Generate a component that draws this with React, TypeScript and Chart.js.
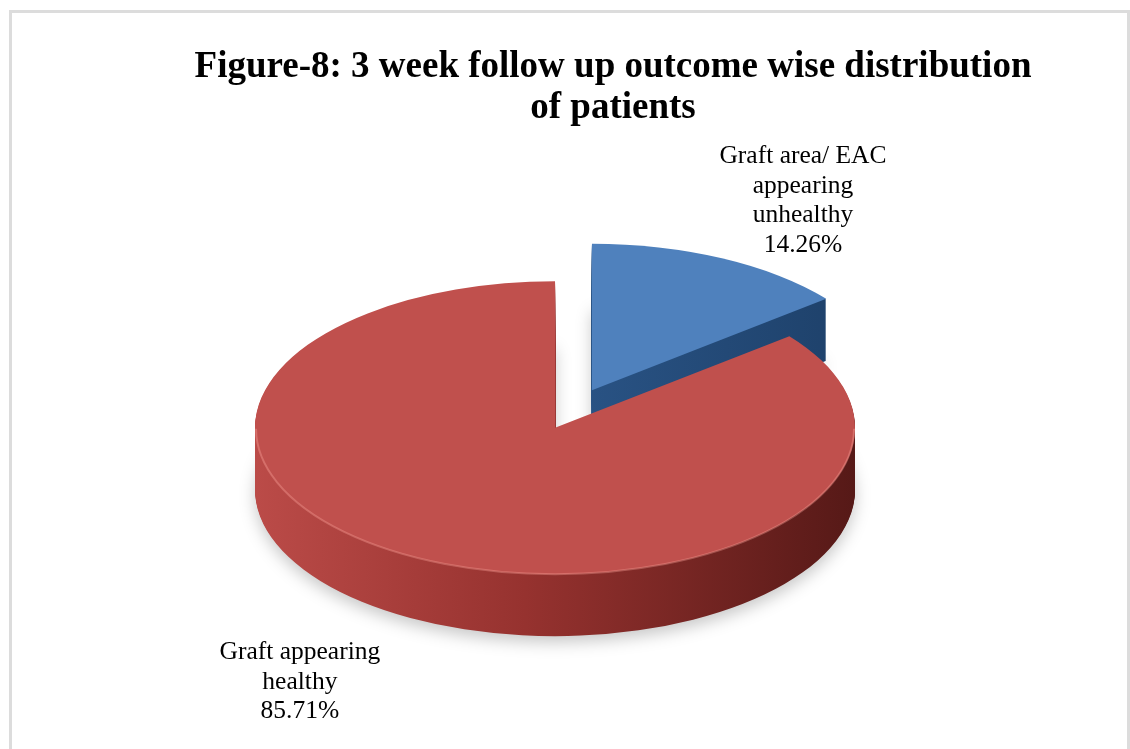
import React, { useEffect, useRef } from 'react';
import { Chart, registerables } from 'chart.js';

Chart.register(...registerables);

// Outcome categories at the 3 week follow up
const categories = ['Graft area/ EAC appearing unhealthy', 'Graft appearing healthy'];
const labelLines = [
  ['Graft area/ EAC', 'appearing', 'unhealthy'],
  ['Graft appearing', 'healthy'],
];
const percentages = [14.26, 85.71];

// Face and side colours per slice
const faceColors = ['#4f81bd', '#c0504d'];
const sideColors = [
  ['#3b6ba4', '#2a5486', '#1c3e66'],
  ['#bb4b48', '#96322f', '#561917'],
];

const titleLines = ['Figure-8: 3 week follow up outcome wise distribution', 'of patients'];

// 3D look
const TILT = 0.488; // vertical squash of the pie disc
const DEPTH = 62; // thickness of the disc in px
const EXPLODE = 42.6; // distance each slice is pulled out from the centre

// Data label anchors, in units of the pie radius from its centre
const labelAnchors = [
  [0.765, -0.82],
  [-0.912, 0.833],
];
const LABEL_FONT = 25.5;
const LABEL_LINE = 29.7;

const TITLE_X = 613;
const TITLE_Y = 77;
const TITLE_LINE = 41;

const pie3d = {
  id: 'pie3d',
  beforeDatasetsDraw(chart: any) {
    const { ctx } = chart;
    const arcs = chart.getDatasetMeta(0).data;
    arcs.forEach((el: any, i: number) => {
      const { x, y, startAngle, endAngle, outerRadius } = el.getProps(
        ['x', 'y', 'startAngle', 'endAngle', 'outerRadius'],
        true
      );
      const mid = (startAngle + endAngle) / 2;
      const ox = x + Math.cos(mid) * EXPLODE;
      const oy = y + Math.sin(mid) * EXPLODE * TILT;
      const ry = outerRadius * TILT;
      const slice = (dy: number) => {
        ctx.beginPath();
        ctx.moveTo(ox, oy + dy);
        ctx.ellipse(ox, oy + dy, outerRadius, ry, 0, startAngle, endAngle);
        ctx.closePath();
      };

      const grad = ctx.createLinearGradient(ox - outerRadius, 0, ox + outerRadius, 0);
      grad.addColorStop(0, sideColors[i][0]);
      grad.addColorStop(0.45, sideColors[i][1]);
      grad.addColorStop(1, sideColors[i][2]);

      // bottom layer carries a soft drop shadow
      ctx.save();
      ctx.shadowColor = 'rgba(0,0,0,0.22)';
      ctx.shadowBlur = 16;
      ctx.shadowOffsetY = 6;
      ctx.fillStyle = grad;
      slice(DEPTH);
      ctx.fill();
      ctx.restore();

      // extruded side
      ctx.save();
      ctx.fillStyle = grad;
      for (let dy = DEPTH - 1; dy >= 1; dy--) {
        slice(dy);
        ctx.fill();
      }
      ctx.restore();

      // top face
      ctx.save();
      ctx.fillStyle = el.options.backgroundColor;
      slice(0);
      ctx.fill();

      // light bevel along the front rim
      const a0 = Math.max(startAngle, 0);
      const a1 = Math.min(endAngle, Math.PI);
      if (a1 > a0) {
        ctx.beginPath();
        ctx.ellipse(ox, oy + 1, outerRadius - 1, ry - 1, 0, a0, a1);
        ctx.strokeStyle = 'rgba(255,170,160,0.35)';
        ctx.lineWidth = 2;
        ctx.stroke();
      }
      ctx.restore();
    });
    return false;
  },
  afterDraw(chart: any) {
    const { ctx } = chart;
    const arcs = chart.getDatasetMeta(0).data;
    const cx = arcs[0].x;
    const cy = arcs[0].y;
    const R = arcs[0].outerRadius;
    ctx.save();
    ctx.fillStyle = '#000';
    ctx.textAlign = 'center';
    ctx.textBaseline = 'alphabetic';

    ctx.font = `${LABEL_FONT}px "Liberation Serif", "Times New Roman", serif`;
    percentages.forEach((v, i) => {
      const lines = [...labelLines[i], `${v.toFixed(2)}%`];
      const lx = cx + labelAnchors[i][0] * R;
      const ly = cy + labelAnchors[i][1] * R;
      lines.forEach((t, j) => ctx.fillText(t, lx, ly + j * LABEL_LINE));
    });

    ctx.font = `bold 37px "Liberation Serif", "Times New Roman", serif`;
    titleLines.forEach((t, j) => ctx.fillText(t, TITLE_X, TITLE_Y + j * TITLE_LINE));
    ctx.restore();
  },
};

export default function App() {
  const canvasRef = useRef<HTMLCanvasElement | null>(null);

  useEffect(() => {
    if (!canvasRef.current) return;
    const chart = new Chart(canvasRef.current, {
      type: 'pie',
      data: {
        labels: categories,
        datasets: [
          {
            data: percentages,
            backgroundColor: faceColors,
            borderWidth: 0,
          },
        ],
      },
      options: {
        responsive: false,
        animation: false,
        events: [],
        layout: { padding: { left: 273.5, right: 256.5, top: 109, bottom: 40 } },
        plugins: {
          legend: { display: false },
          tooltip: { enabled: false },
          title: { display: false },
        },
      },
      plugins: [pie3d],
    });
    return () => chart.destroy();
  }, []);

  return (
    <div
      style={{
        position: 'fixed',
        left: 0,
        top: 0,
        width: 1130,
        height: 749,
        overflow: 'hidden',
        background: '#fff',
      }}
    >
      <div
        style={{
          position: 'absolute',
          left: 9,
          top: 10,
          width: 1115,
          height: 800,
          border: '3px solid #dcdcdc',
          borderBottom: 'none',
        }}
      />
      <canvas
        ref={canvasRef}
        width={1130}
        height={749}
        style={{ position: 'absolute', left: 0, top: 0 }}
      />
    </div>
  );
}
